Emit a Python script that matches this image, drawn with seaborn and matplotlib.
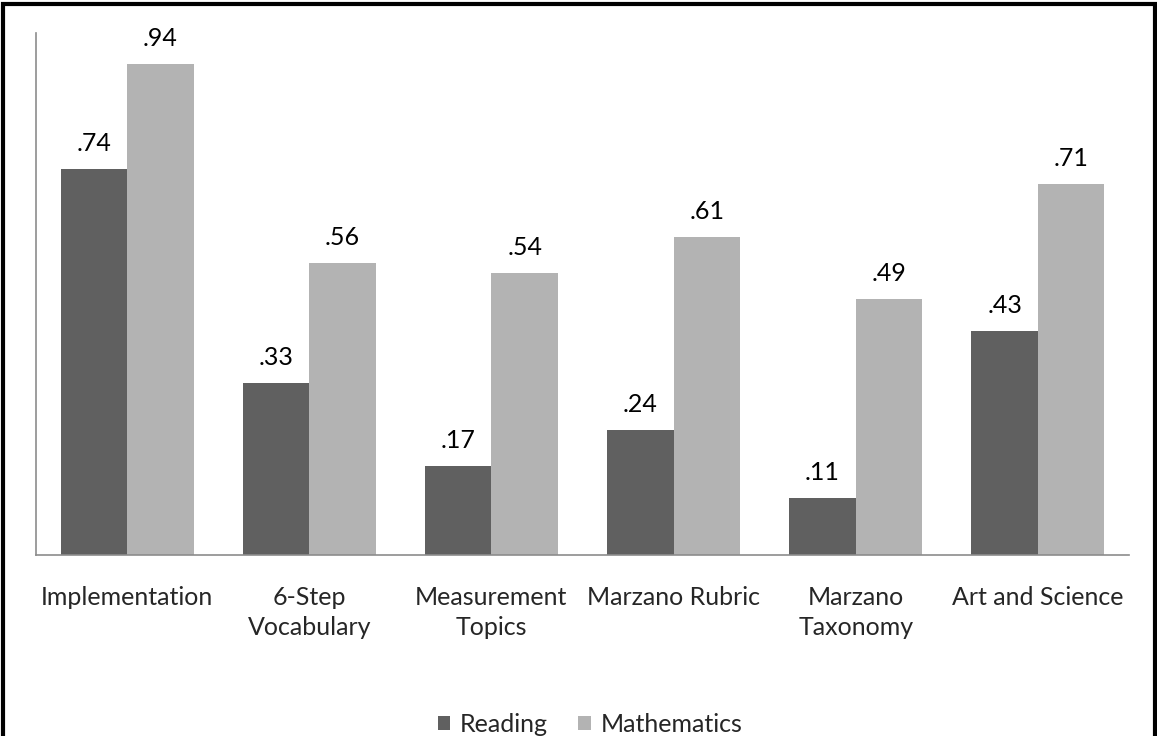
import matplotlib
matplotlib.use("Agg")
import matplotlib.pyplot as plt
import seaborn as sns
import pandas as pd
from matplotlib.patches import Rectangle

# ── Data ──────────────────────────────────────────────────────────────────────

categories = ["Implementation", "6-Step\nVocabulary", "Measurement\nTopics",
              "Marzano Rubric", "Marzano\nTaxonomy", "Art and Science"]
reading = [0.74, 0.33, 0.17, 0.24, 0.11, 0.43]
mathematics = [0.94, 0.56, 0.54, 0.61, 0.49, 0.71]
series = ["Reading", "Mathematics"]

COLORS = {"Reading": "#606060", "Mathematics": "#b3b3b3"}
SPINE = "#8c8c8c"

df = pd.DataFrame({
    "category": categories * 2,
    "series": [series[0]] * len(categories) + [series[1]] * len(categories),
    "value": reading + mathematics,
})

# ── Style ─────────────────────────────────────────────────────────────────────

sns.set_style("white")
plt.rcParams["font.family"] = ["Lato", "DejaVu Sans"]
FS = 18

fig = plt.figure(figsize=(11.57, 7.36), dpi=100)
ax = fig.add_axes([0.0311, 0.2459, 0.9447, 0.7093])

sns.barplot(data=df, x="category", y="value", hue="series",
            order=categories, hue_order=series, palette=COLORS,
            width=0.73, saturation=1, linewidth=0, ax=ax, legend=True)

ax.set_ylim(0, 1.0)
ax.set_xlim(-0.5, len(categories) - 0.5)
ax.set_yticks([])
ax.set_xlabel("")
ax.set_ylabel("")
ax.tick_params(axis="x", length=0, pad=22, labelsize=FS)
for lbl in ax.get_xticklabels():
    lbl.set_linespacing(1.4)
    lbl.set_verticalalignment("top")

for side in ("top", "right"):
    ax.spines[side].set_visible(False)
for side in ("left", "bottom"):
    ax.spines[side].set_color(SPINE)
    ax.spines[side].set_linewidth(1.2)

# Value labels above bars
for cont in ax.containers:
    ax.bar_label(cont, labels=[f"{v:.2f}".lstrip("0") for v in cont.datavalues],
                 padding=10, fontsize=FS, color="black")

# Legend at the bottom
ax.legend(loc="center", bbox_to_anchor=(0.51, 0.016), bbox_transform=fig.transFigure,
          ncol=2, frameon=False, fontsize=FS, handlelength=0.5, handleheight=0.5,
          handletextpad=0.4, columnspacing=1.2)

# Outer border
fig.patches.append(Rectangle((0.003, -0.01), 0.995, 1.005, transform=fig.transFigure,
                             fill=False, edgecolor="black", linewidth=3))

fig.savefig("out.png", dpi=100)
